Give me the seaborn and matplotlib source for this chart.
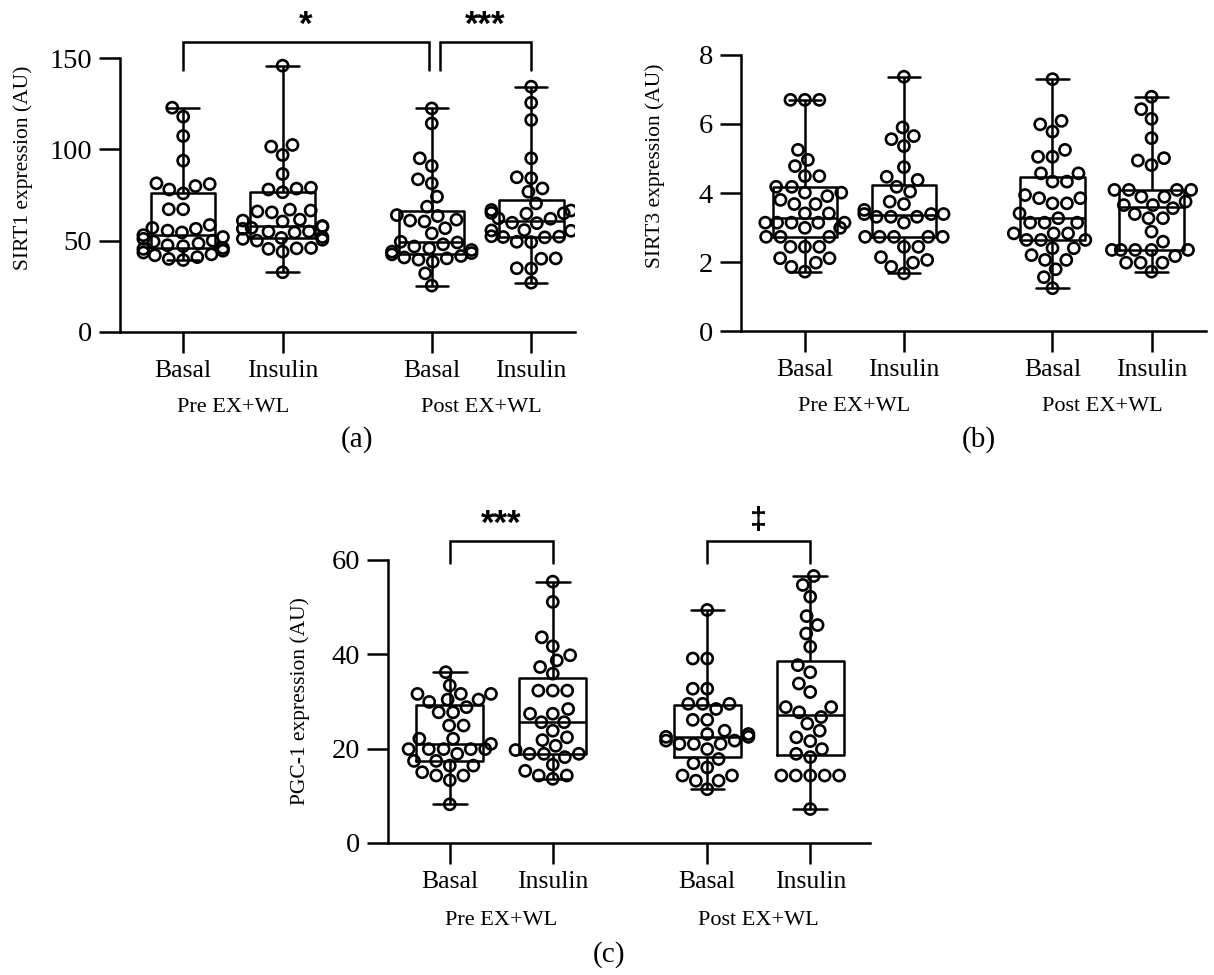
import matplotlib
matplotlib.use("Agg")
import matplotlib.pyplot as plt
import seaborn as sns
import pandas as pd
import warnings

warnings.filterwarnings("ignore")

# ---- data ----
groups = ["Pre Basal", "Pre Insulin", "Post Basal", "Post Insulin"]
tick_labels = ["Basal", "Insulin", "Basal", "Insulin"]
phase_labels = ["Pre EX+WL", "Post EX+WL"]

# (a) SIRT1
sirt1_pre_basal = [122.8, 117.9, 107.3, 93.8, 81.4, 81.0, 79.9, 78.0, 75.9, 67.2, 67.2,
                   58.6, 57.0, 56.5, 55.5, 54.5, 53.0, 52.0, 51.0, 50.0, 49.5, 48.5, 47.5,
                   47.0, 46.0, 45.5, 44.5, 43.5, 42.5, 42.0, 41.0, 40.0, 39.4]
sirt1_pre_insulin = [145.8, 102.4, 101.5, 96.9, 86.5, 79.0, 78.5, 78.0, 76.5, 67.0, 66.5,
                     66.0, 65.5, 61.5, 61.0, 60.5, 58.0, 57.7, 57.0, 56.5, 55.0, 54.9, 54.5,
                     52.0, 51.5, 51.0, 50.5, 50.0, 46.0, 45.8, 45.5, 44.0, 32.7]
sirt1_post_basal = [122.4, 114.2, 95.1, 90.9, 83.6, 81.4, 74.1, 68.6, 64.0, 63.5, 61.5,
                    61.0, 60.5, 56.8, 54.0, 49.4, 49.0, 48.0, 46.8, 45.8, 44.9, 44.0, 43.2,
                    42.5, 41.6, 40.8, 40.3, 39.6, 38.5, 32.1, 25.4]
sirt1_post_insulin = [134.3, 125.5, 116.1, 95.1, 84.7, 84.2, 78.6, 76.8, 70.4, 66.8, 66.5,
                      65.2, 65.0, 64.8, 62.2, 62.0, 59.8, 59.6, 55.8, 55.6, 55.4, 52.4, 52.2,
                      52.0, 51.8, 49.4, 49.2, 40.3, 40.1, 34.9, 34.7, 27.0]

# (b) SIRT3
sirt3_pre_basal = [6.70, 6.70, 6.70, 5.25, 4.96, 4.78, 4.49, 4.49, 4.18, 4.18, 4.01, 4.01,
                   3.91, 3.80, 3.68, 3.68, 3.41, 3.41, 3.14, 3.14, 3.14, 3.14, 3.14, 2.99,
                   2.99, 2.73, 2.73, 2.73, 2.44, 2.44, 2.44, 2.11, 2.11, 1.98, 1.86, 1.72]
sirt3_pre_insulin = [7.37, 5.90, 5.65, 5.56, 5.36, 4.75, 4.47, 4.38, 4.18, 4.04, 3.75, 3.68,
                     3.51, 3.39, 3.39, 3.39, 3.31, 3.31, 3.31, 3.14, 2.73, 2.73, 2.73, 2.73,
                     2.73, 2.44, 2.44, 2.14, 2.06, 1.98, 1.86, 1.67]
sirt3_post_basal = [7.30, 6.09, 5.99, 5.78, 5.25, 5.05, 5.05, 4.57, 4.57, 4.33, 4.33, 3.94,
                    3.85, 3.85, 3.70, 3.70, 3.41, 3.27, 3.14, 3.14, 3.14, 2.83, 2.83, 2.83,
                    2.64, 2.64, 2.64, 2.40, 2.40, 2.20, 2.06, 2.06, 1.79, 1.56, 1.24]
sirt3_post_insulin = [6.79, 6.43, 6.15, 5.59, 5.01, 4.94, 4.81, 4.09, 4.09, 4.09, 4.09, 3.89,
                      3.89, 3.75, 3.65, 3.65, 3.56, 3.39, 3.27, 3.27, 2.88, 2.59, 2.35, 2.35,
                      2.35, 2.35, 2.35, 2.17, 1.98, 1.98, 1.98, 1.72]

# (c) PGC-1
pgc1_pre_basal = [36.2, 33.4, 31.6, 31.6, 31.6, 30.4, 30.4, 29.9, 28.8, 27.7, 27.7, 24.9,
                  24.9, 22.1, 22.1, 21.0, 19.9, 19.9, 19.9, 19.9, 19.9, 18.9, 17.4, 17.4,
                  16.4, 16.4, 15.0, 14.3, 14.3, 13.3, 8.2]
pgc1_pre_insulin = [55.4, 51.1, 43.6, 41.7, 39.8, 38.7, 37.3, 35.9, 32.3, 32.3, 32.3, 28.4,
                    27.4, 27.4, 25.6, 25.6, 23.8, 22.4, 21.8, 20.6, 19.7, 18.9, 18.9, 18.9,
                    18.2, 16.6, 15.3, 14.3, 14.3, 13.6]
pgc1_post_basal = [49.4, 39.1, 39.1, 32.7, 32.7, 29.5, 29.5, 29.5, 28.4, 26.1, 26.1, 23.8,
                   23.1, 23.1, 22.5, 22.5, 21.7, 21.7, 21.0, 21.0, 21.0, 19.9, 17.8, 16.9,
                   16.0, 14.3, 14.3, 13.2, 13.2, 11.4]
pgc1_post_insulin = [56.6, 54.7, 52.2, 48.1, 46.2, 44.4, 41.6, 37.7, 36.2, 33.8, 32.0, 28.8,
                     28.8, 27.7, 26.7, 25.3, 23.8, 22.4, 21.6, 19.9, 18.9, 18.2, 14.3, 14.3,
                     14.3, 14.3, 14.3, 7.2]

# ---- layout ----
group_pos = {"Pre Basal": 0, "Pre Insulin": 1, "Post Basal": 2.5, "Post Insulin": 3.5}

sns.set_style("ticks")
plt.rcParams["font.family"] = ["Liberation Serif", "DejaVu Serif"]
plt.rcParams["axes.linewidth"] = 1.8
for key in ["text.color", "axes.labelcolor", "axes.edgecolor", "xtick.color", "ytick.color"]:
    plt.rcParams[key] = "black"

fig = plt.figure(figsize=(12.14, 9.75), dpi=100)
ax_a = fig.add_axes([0.0988, 0.6595, 0.3748, 0.2810])
ax_b = fig.add_axes([0.6104, 0.6605, 0.3830, 0.2831])
ax_c = fig.add_axes([0.3196, 0.1354, 0.3970, 0.2903])


def make_df(series):
    rows = []
    for g, vals in zip(groups, series):
        for v in vals:
            rows.append({"group": g, "value": v})
    df = pd.DataFrame(rows)
    df["x"] = df["group"].map(group_pos)
    return df


def draw_panel(ax, series, ylabel, yticks, xlim, label_xy):
    df = make_df(series)
    sns.boxplot(data=df, x="x", y="value", native_scale=True, orient="x",
                whis=(0, 100), width=0.65, fill=False, color="black",
                linewidth=1.8, showfliers=False, ax=ax)
    sns.swarmplot(data=df, x="x", y="value", native_scale=True, orient="x",
                  size=8, color="black", ax=ax)
    for coll in ax.collections:
        coll.set_facecolor("none")
        coll.set_edgecolor("black")
        coll.set_linewidth(1.9)
    ax.set_xlim(*xlim)
    ax.set_ylim(yticks[0], yticks[-1])
    ax.set_yticks(yticks)
    ax.set_yticklabels([str(t) for t in yticks], fontsize=20.5)
    ax.set_xticks(list(group_pos.values()))
    ax.set_xticklabels(tick_labels, fontsize=18.5)
    ax.tick_params(axis="both", width=1.8, length=15, pad=5)
    ax.set_xlabel("")
    ax.set_ylabel(ylabel, fontsize=15.5)
    ax.yaxis.set_label_coords(*label_xy)
    sns.despine(ax=ax)
    trans = ax.get_xaxis_transform()
    ax.text(0.5, -0.275, phase_labels[0], transform=trans, ha="center", va="center", fontsize=16)
    ax.text(3.0, -0.275, phase_labels[1], transform=trans, ha="center", va="center", fontsize=16)


def bracket(ax, x0, x1, y_top, y_leg, label, y_text, size=25):
    ax.plot([x0, x0, x1, x1], [y_leg, y_top, y_top, y_leg], color="black",
            lw=1.8, clip_on=False, solid_joinstyle="miter")
    ax.text((x0 + x1) / 2, y_text, label, ha="center", va="center", fontsize=size,
            fontweight="bold", family=["Liberation Sans", "DejaVu Sans"], clip_on=False)


draw_panel(ax_a, [sirt1_pre_basal, sirt1_pre_insulin, sirt1_post_basal, sirt1_post_insulin],
           "SIRT1 expression (AU)", [0, 50, 100, 150], (-0.636, 3.94), (-0.19, 0.6))
draw_panel(ax_b, [sirt3_pre_basal, sirt3_pre_insulin, sirt3_post_basal, sirt3_post_insulin],
           "SIRT3 expression (AU)", [0, 2, 4, 6, 8], (-0.645, 4.05), (-0.163, 0.6))
draw_panel(ax_c, [pgc1_pre_basal, pgc1_pre_insulin, pgc1_post_basal, pgc1_post_insulin],
           "PGC-1 expression (AU)", [0, 20, 40, 60], (-0.60, 4.08), (-0.162, 0.5))

# significance brackets
bracket(ax_a, 0, 2.47, 158.7, 143.4, "*", 168.0)
bracket(ax_a, 2.58, 3.5, 158.7, 143.4, "***", 168.0)
bracket(ax_c, 0, 1, 64.0, 59.4, "***", 67.6)
bracket(ax_c, 2.5, 3.5, 64.0, 59.4, "\u2021", 68.3, size=22)

# panel letters
fig.text(0.294, 0.549, "(a)", ha="center", va="center", fontsize=21)
fig.text(0.806, 0.549, "(b)", ha="center", va="center", fontsize=21)
fig.text(0.502, 0.021, "(c)", ha="center", va="center", fontsize=21)

fig.savefig("out.png", dpi=100, facecolor="white")
